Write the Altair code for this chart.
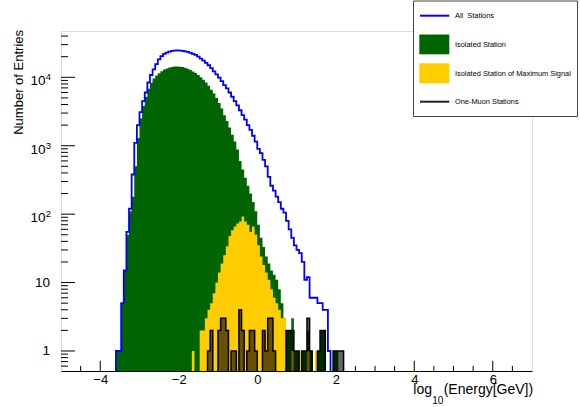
import altair as alt
import pandas as pd

FONT = "Liberation Sans"
W, H = 471, 340
X_MIN, X_MAX = -5.0, 7.0
N_BINS = 180
Y_MIN, Y_MAX = 0.51, 47500.0
FLOOR = 0.1
BIN_W = (X_MAX - X_MIN) / N_BINS

# ---- histogram contents (counts per bin, starting at a given bin index) ----
all_first_bin = 21
all_counts = [1, 1, 5, 15, 55, 120, 380, 1100, 2000, 3100,
              4500, 6000, 8400, 10800, 13100, 15600,
              18300, 20400, 22000, 23000, 23800, 24300, 24600, 24700, 24600, 24300, 24000, 23500,
              22800, 22000, 21200, 20000, 18800, 17500, 16200, 15000, 13600, 12200, 11000, 9900,
              8800, 7700, 6900, 6000, 5200, 4500, 3900, 3300, 2800, 2400, 2000, 1700, 1400, 1150,
              900, 780, 620, 500, 350, 260, 220, 180, 150, 120, 105, 80, 60, 45, 35, 30, 27, 20,
              11, 12, 6, 6, 6, 5, 5, 4, 4, 1]

iso_first_bin = 21
iso_counts = [1, 1, 5, 15, 50, 110, 180, 500, 1300, 2500,
              3800, 5200, 6800, 8300, 9600, 10600, 11500, 12300, 13000, 13500,
              13900, 14200, 14350, 14400, 14300, 14100, 13800, 13300, 12800, 12200,
              11600, 10800, 10000, 9200, 8400, 7500, 6600, 5800, 5000, 4200,
              3500, 2800, 2300, 1850, 1450, 1150, 880, 600, 450, 340,
              260, 200, 150, 110, 70, 45, 33, 24, 19, 15,
              13, 11, 8, 5, 3, 2, 2, 3, 1, 1,
              0, 1, 1, 2, 1, 0, 0, 1, 2, 2,
              0, 0, 0, 1, 1]

maxsig_first_bin = 50
maxsig_counts = [1, 0, 0, 2, 2, 3, 4, 5, 7, 10,
                 14, 19, 25, 34, 48, 58, 66, 73, 78, 92,
                 78, 70, 55, 66, 50, 35, 24, 18, 14, 11,
                 8, 6, 5, 4, 3, 3, 0, 0, 1, 0,
                 0, 1, 0, 0, 1, 0, 0, 1]

onemuon_first_bin = 56
onemuon_counts = [1, 2, 0, 0, 2, 3, 3, 2, 0, 1,
                  1, 0, 4, 2, 0, 1, 2, 2, 1, 0,
                  0, 2, 1, 3, 3, 1, 0, 0, 0, 0,
                  2, 2, 2, 1, 1, 0, 1, 1, 3, 1,
                  0, 0, 1, 2, 2, 0, 0, 0, 1, 1,
                  1, 1]

# ---- axis ticks / labels ----
x_label_values = [-4, -2, 0, 2, 4, 6]
x_minor_ticks = [-4.5, -3.5, -3.0, -2.5, -1.5, -1.0, -0.5, 0.5, 1.0, 1.5,
                 2.5, 3.0, 3.5, 4.5, 5.0, 5.5, 6.5]
y_major_ticks = [1, 10, 100, 1000, 10000]
y_label_base = ["1", "10", "10", "10", "10"]
y_label_exp = ["", "", "2", "3", "4"]
y_minor_ticks = [0.6, 0.7, 0.8, 0.9, 2, 3, 4, 5, 6, 7, 8, 9,
                 20, 30, 40, 50, 60, 70, 80, 90,
                 200, 300, 400, 500, 600, 700, 800, 900,
                 2000, 3000, 4000, 5000, 6000, 7000, 8000, 9000,
                 20000, 30000, 40000]

legend_labels = ["All\u00a0 Stations", "Isolated Station",
                 "Isolated Station of Maximum Signal", "One-Muon Stations"]
x_title_main = "(Energy[GeV])"
x_title_log = "log"
x_title_sub = "10"
y_title = "Number of Entries"

BLUE, GREEN, YELLOW = "#0000ff", "#006400", "#ffcc00"

x_scale = alt.Scale(domain=[X_MIN, X_MAX], nice=False, zero=False)
y_scale = alt.Scale(type="log", domain=[Y_MIN, Y_MAX], nice=False)
x_axis = alt.Axis(values=x_label_values, labelFont=FONT, labelFontSize=13, labelColor="black",
                  ticks=False, tickSize=0, domain=True, domainColor="black", domainWidth=1,
                  grid=False, labelPadding=2, labelFlush=False, title=None, zindex=1)


def step_frames(first, counts):
    xs = [X_MIN + (first + j) * BIN_W for j in range(len(counts) + 1)]
    ys = [c if c > 0 else FLOOR for c in counts]
    ys = ys + [ys[-1]]
    area_df = pd.DataFrame({"x": xs, "y": ys, "floor": [FLOOR] * len(xs)})
    line_df = pd.DataFrame({"x": [xs[0]] + xs + [xs[-1]], "y": [FLOOR] + ys + [FLOOR]})
    line_df["i"] = list(range(len(line_df)))
    return area_df, line_df


def area_layer(df, color, opacity=1.0):
    return alt.Chart(df).mark_area(interpolate="step-after", color=color, opacity=opacity,
                                   clip=True).encode(
        x=alt.X("x:Q", scale=x_scale, axis=x_axis),
        y=alt.Y("y:Q", scale=y_scale, axis=None),
        y2=alt.Y2("floor:Q"),
    )


def line_layer(df, color, width):
    return alt.Chart(df).mark_line(interpolate="step-after", color=color, strokeWidth=width,
                                   clip=True).encode(
        x=alt.X("x:Q", scale=x_scale, axis=x_axis),
        y=alt.Y("y:Q", scale=y_scale, axis=None),
        order="i:Q",
    )


all_area, all_line = step_frames(all_first_bin, all_counts)
iso_area, iso_line = step_frames(iso_first_bin, iso_counts)
max_area, max_line = step_frames(maxsig_first_bin, maxsig_counts)
one_area, one_line = step_frames(onemuon_first_bin, onemuon_counts)

# ticks (drawn inward, ROOT style)
xt_major = alt.Chart(pd.DataFrame({"x": x_label_values})).mark_rule(color="black", strokeWidth=1).encode(
    x=alt.X("x:Q", scale=x_scale, axis=x_axis), y=alt.value(H), y2=alt.value(H - 10.2))
xt_minor = alt.Chart(pd.DataFrame({"x": x_minor_ticks})).mark_rule(color="black", strokeWidth=1).encode(
    x=alt.X("x:Q", scale=x_scale, axis=x_axis), y=alt.value(H), y2=alt.value(H - 5.1))
yt_major = alt.Chart(pd.DataFrame({"v": y_major_ticks})).mark_rule(color="black", strokeWidth=1).encode(
    y=alt.Y("v:Q", scale=y_scale, axis=None), x=alt.value(0), x2=alt.value(14))
yt_minor = alt.Chart(pd.DataFrame({"v": y_minor_ticks})).mark_rule(color="black", strokeWidth=1).encode(
    y=alt.Y("v:Q", scale=y_scale, axis=None), x=alt.value(0), x2=alt.value(7))

ylab = pd.DataFrame({"v": y_major_ticks, "base": y_label_base, "exp": y_label_exp})
plain = ylab[ylab["exp"] == ""]
powers = ylab[ylab["exp"] != ""]
ylab_plain = alt.Chart(plain).mark_text(align="right", baseline="alphabetic", dy=4.5, font=FONT,
                                        fontSize=13.5, color="black").encode(
    y=alt.Y("v:Q", scale=y_scale, axis=None), x=alt.value(-11), text="base:N")
ylab_base = alt.Chart(powers).mark_text(align="right", baseline="alphabetic", dy=8, font=FONT,
                                        fontSize=13.5, color="black").encode(
    y=alt.Y("v:Q", scale=y_scale, axis=None), x=alt.value(-15.5), text="base:N")
ylab_exp = alt.Chart(powers).mark_text(align="left", baseline="alphabetic", dy=3, font=FONT,
                                       fontSize=9.5, color="black").encode(
    y=alt.Y("v:Q", scale=y_scale, axis=None), x=alt.value(-15.3), text="exp:N")


def text_at(s, x, y, size, align="left", baseline="middle", angle=0):
    kw = dict(align=align, baseline=baseline, font=FONT, fontSize=size, color="black")
    if angle:
        kw["angle"] = angle
    return alt.Chart(pd.DataFrame({"t": [s]})).mark_text(**kw).encode(
        text="t:N", x=alt.value(x), y=alt.value(y))


one_row = pd.DataFrame({"a": [0]})

# titles: log + subscript 10 + (Energy[GeV]) laid out left to right from px 413
LOG_X = 352.3
w_log = 1.334 * 14
w_sub = 1.112 * 10
t_log = text_at(x_title_log, LOG_X, 363, 14, align="left", baseline="alphabetic")
t_sub = text_at(x_title_sub, LOG_X + w_log + 0.3, 372.5, 10, align="left", baseline="alphabetic")
t_main = text_at(x_title_main, LOG_X + w_log + w_sub + 0.6, 363, 14, align="left", baseline="alphabetic")
t_y = text_at(y_title, -42, -1, 13, align="right", baseline="middle", angle=270)

# legend
leg_box = alt.Chart(one_row).mark_rect(fill="white", stroke="#444444", strokeWidth=1).encode(
    x=alt.value(352.5), x2=alt.value(516.5), y=alt.value(-30), y2=alt.value(85.5))
leg_blue = alt.Chart(one_row).mark_rule(color=BLUE, strokeWidth=2).encode(
    x=alt.value(359), x2=alt.value(388.3), y=alt.value(-15.3))
leg_green = alt.Chart(one_row).mark_rect(color=GREEN).encode(
    x=alt.value(358.3), x2=alt.value(388.3), y=alt.value(3.5), y2=alt.value(23.3))
leg_yellow = alt.Chart(one_row).mark_rect(color=YELLOW).encode(
    x=alt.value(358.3), x2=alt.value(388.3), y=alt.value(32.3), y2=alt.value(52.3))
leg_black = alt.Chart(one_row).mark_rule(color="#222222", strokeWidth=2).encode(
    x=alt.value(359), x2=alt.value(388.3), y=alt.value(70.7))
leg_texts = [text_at(legend_labels[0], 394, -15, 7.4),
             text_at(legend_labels[1], 394, 14, 7.4),
             text_at(legend_labels[2], 394, 42.5, 7.4),
             text_at(legend_labels[3], 394, 71, 7.4)]

chart = alt.layer(
    xt_major, xt_minor, yt_major, yt_minor,
    area_layer(iso_area, GREEN),
    line_layer(all_line, BLUE, 1.8),
    area_layer(max_area, YELLOW),
    area_layer(one_area, "black", 0.6),
    line_layer(one_line, "black", 1.5),
    ylab_plain, ylab_base, ylab_exp,
    t_main, t_sub, t_log, t_y,
    leg_box, leg_blue, leg_green, leg_yellow, leg_black, *leg_texts,
).properties(
    width=W, height=H,
    padding={"left": 61, "top": 31, "right": 48, "bottom": 36},
    autosize=alt.AutoSizeParams(type="none"),
    background="white",
).configure_view(stroke="black", strokeWidth=1).configure(font=FONT)

chart.save("out.html", embed_options={"renderer": "svg", "actions": False})
